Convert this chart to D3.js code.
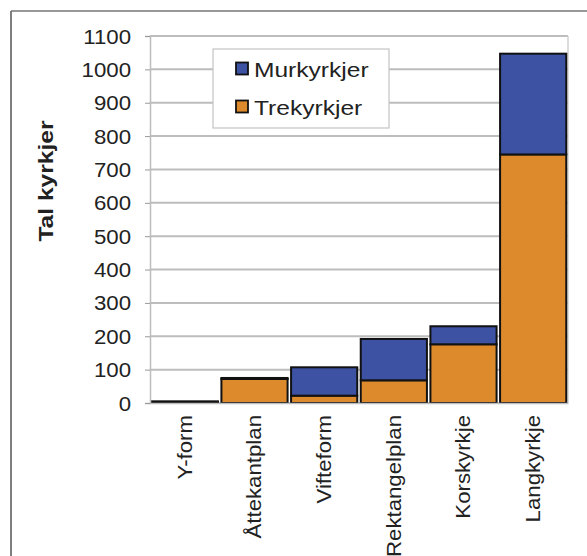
<!DOCTYPE html>
<html>
<head>
<meta charset="utf-8">
<script src="https://cdn.jsdelivr.net/npm/d3@7/dist/d3.min.js"></script>
<style>
  html, body { margin: 0; padding: 0; background: #fff; }
  svg { display: block; }
  text { font-family: "Liberation Sans", Arial, sans-serif; fill: #222; }
</style>
</head>
<body>
<svg id="chart" width="587" height="556"></svg>
<script>
const categories = ["Y-form", "Åttekantplan", "Vifteform", "Rektangelplan", "Korskyrkje", "Langkyrkje"];
const trekyrkjer = [3, 72, 22, 68, 176, 745];
const murkyrkjer = [2, 3, 85, 124, 54, 302];
const seriesNames = ["Murkyrkjer", "Trekyrkjer"];
const seriesColors = ["#3d52a3", "#dc8a2c"];
const yTicks = [0, 100, 200, 300, 400, 500, 600, 700, 800, 900, 1000, 1100];
const yTitle = "Tal kyrkjer";

const SX = 1.14; // horizontal glyph stretch of the source font
const svg = d3.select("#chart");
const W = 587, H = 556;
const plot = { left: 150, right: 568, top: 36, bottom: 403 };

// outer frame (top + left only visible)
svg.append("line").attr("x1", 11).attr("y1", 11).attr("x2", W).attr("y2", 11)
  .attr("stroke", "#333").attr("stroke-width", 1.2);
svg.append("line").attr("x1", 11).attr("y1", 11).attr("x2", 11).attr("y2", H)
  .attr("stroke", "#555").attr("stroke-width", 1.5);

const x = d3.scaleBand().domain(categories).range([plot.left, plot.right])
  .paddingInner(0.05).paddingOuter(0.025);
const y = d3.scaleLinear().domain([0, 1100]).range([plot.bottom, plot.top]);

// gridlines
svg.append("g").selectAll("line").data(yTicks).join("line")
  .attr("x1", plot.left).attr("x2", plot.right)
  .attr("y1", d => y(d)).attr("y2", d => y(d))
  .attr("stroke", "#bdbdbd").attr("stroke-width", 2);
// plot-area right border
svg.append("line").attr("x1", plot.right).attr("x2", plot.right)
  .attr("y1", plot.top).attr("y2", plot.bottom)
  .attr("stroke", "#d0d0d0").attr("stroke-width", 1.5);

// stacked bars
const rows = categories.map((c, i) => ({ cat: c, Trekyrkjer: trekyrkjer[i], Murkyrkjer: murkyrkjer[i] }));
const stack = d3.stack().keys(["Trekyrkjer", "Murkyrkjer"])(rows);
const colorOf = k => seriesColors[seriesNames.indexOf(k)];
stack.forEach(layer => {
  svg.append("g").selectAll("rect").data(layer).join("rect")
    .attr("x", d => x(d.data.cat))
    .attr("width", x.bandwidth())
    .attr("y", d => y(d[1]))
    .attr("height", d => y(d[0]) - y(d[1]))
    .attr("fill", colorOf(layer.key))
    .attr("stroke", "#111").attr("stroke-width", 2);
});

// y axis
const yAxis = svg.append("g").attr("transform", `translate(${plot.left},0)`)
  .call(d3.axisLeft(y).tickValues(yTicks).tickSize(5).tickPadding(14).tickFormat(d3.format("d")));
yAxis.select(".domain").attr("stroke", "#bdbdbd").attr("stroke-width", 1.5);
yAxis.selectAll(".tick line").attr("stroke", "#999");
yAxis.selectAll(".tick text").each(function() {
  const t = d3.select(this);
  const xx = +t.attr("x");
  t.attr("x", 0).attr("dy", "0.36em")
   .attr("transform", `translate(${xx},0) scale(${SX},1)`)
   .style("font-size", "19.5px").style("fill", "#222");
});
yAxis.attr("font-family", null).attr("font-size", null);

// x axis
const xAxis = svg.append("g").attr("transform", `translate(0,${plot.bottom})`)
  .call(d3.axisBottom(x).tickSize(0).tickPadding(0));
xAxis.select(".domain").attr("stroke", "#bdbdbd").attr("stroke-width", 1.5);
xAxis.selectAll(".tick text")
  .attr("x", 0).attr("y", 0).attr("dy", null)
  .attr("text-anchor", "end")
  .attr("dominant-baseline", "central")
  .attr("transform", `translate(0,12) rotate(-90) scale(${SX},1)`)
  .style("font-size", "19.5px").style("fill", "#222");
xAxis.attr("font-family", null).attr("font-size", null);

// y title
svg.append("text")
  .attr("transform", `translate(53,181) rotate(-90) scale(${SX + 0.06},1)`)
  .attr("text-anchor", "middle")
  .style("font-size", "20.5px").style("font-weight", "bold").style("fill", "#222")
  .text(yTitle);

// legend
const lg = svg.append("g");
lg.append("rect").attr("x", 213).attr("y", 49).attr("width", 176).attr("height", 79)
  .attr("fill", "#fff").attr("stroke", "#c4c4c4").attr("stroke-width", 1.2);
seriesNames.forEach((name, i) => {
  const cy = 69 + i * 38;
  lg.append("rect").attr("x", 236).attr("y", cy - 6.5).attr("width", 12).attr("height", 12)
    .attr("fill", seriesColors[i]).attr("stroke", "#111").attr("stroke-width", 1.8);
  lg.append("text")
    .attr("transform", `translate(254,${cy}) scale(${SX + 0.03},1)`)
    .attr("dy", "0.36em")
    .style("font-size", "21px").style("fill", "#222")
    .text(name);
});
</script>
</body>
</html>
